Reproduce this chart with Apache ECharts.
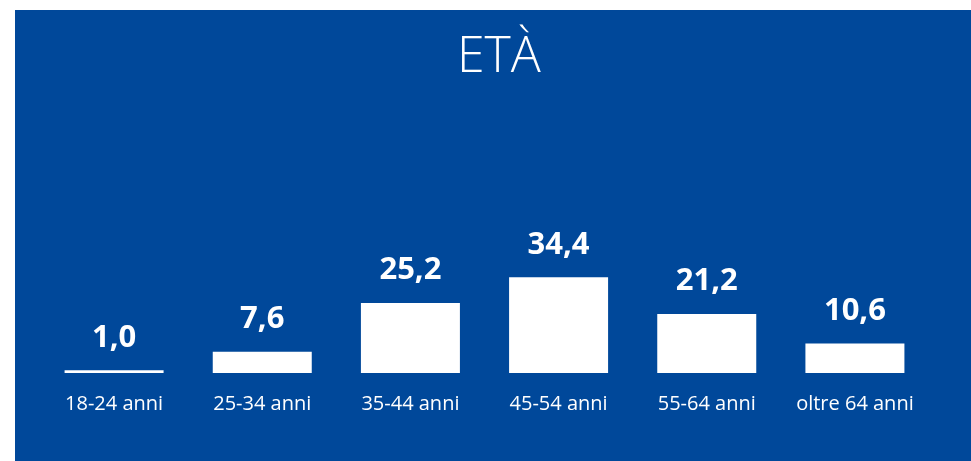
<!DOCTYPE html>
<html>
<head>
<meta charset="utf-8">
<script src="https://cdn.jsdelivr.net/npm/echarts@6/dist/echarts.min.js"></script>
<style>
html,body{margin:0;padding:0;background:#fff;}
#c{width:971px;height:461px;}
</style>
</head>
<body>
<div id="c"></div>
<script>
const titleText = 'ETÀ';
const categories = ['18-24 anni','25-34 anni','35-44 anni','45-54 anni','55-64 anni','oltre 64 anni'];
const values = [1.0, 7.6, 25.2, 34.4, 21.2, 10.6];

const BLUE = '#00489A';
const chart = echarts.init(document.getElementById('c'), null, {renderer:'canvas'});
chart.setOption({
  animation: false,
  backgroundColor: '#ffffff',
  graphic: [{
    type: 'rect', z: -10, silent: true,
    shape: {x: 15, y: 10, width: 956, height: 451},
    style: {fill: BLUE}
  }],
  title: {
    text: titleText,
    left: 452,
    top: 28,
    textStyle: {color:'#fff', fontFamily:'Open Sans', fontWeight: 300, fontSize: 50}
  },
  grid: {left: 40, right: 42, top: 95, bottom: 88},
  xAxis: {
    type: 'category',
    data: categories,
    axisLine: {show:false},
    axisTick: {show:false},
    axisLabel: {color:'#fff', fontFamily:'Open Sans', fontSize: 20, margin: 21, interval: 0}
  },
  yAxis: {
    type: 'value', min: 0, max: 100,
    show: false,
    splitLine: {show:false}
  },
  series: [{
    type: 'bar',
    data: values,
    barWidth: 99,
    itemStyle: {color:'#ffffff'},
    label: {
      show: true, position: 'top', distance: 17,
      color: '#fff', fontFamily: 'Open Sans', fontWeight: 'bold', fontSize: 31,
      formatter: p => p.value.toFixed(1).replace('.', ',')
    }
  }]
});
</script>
</body>
</html>
